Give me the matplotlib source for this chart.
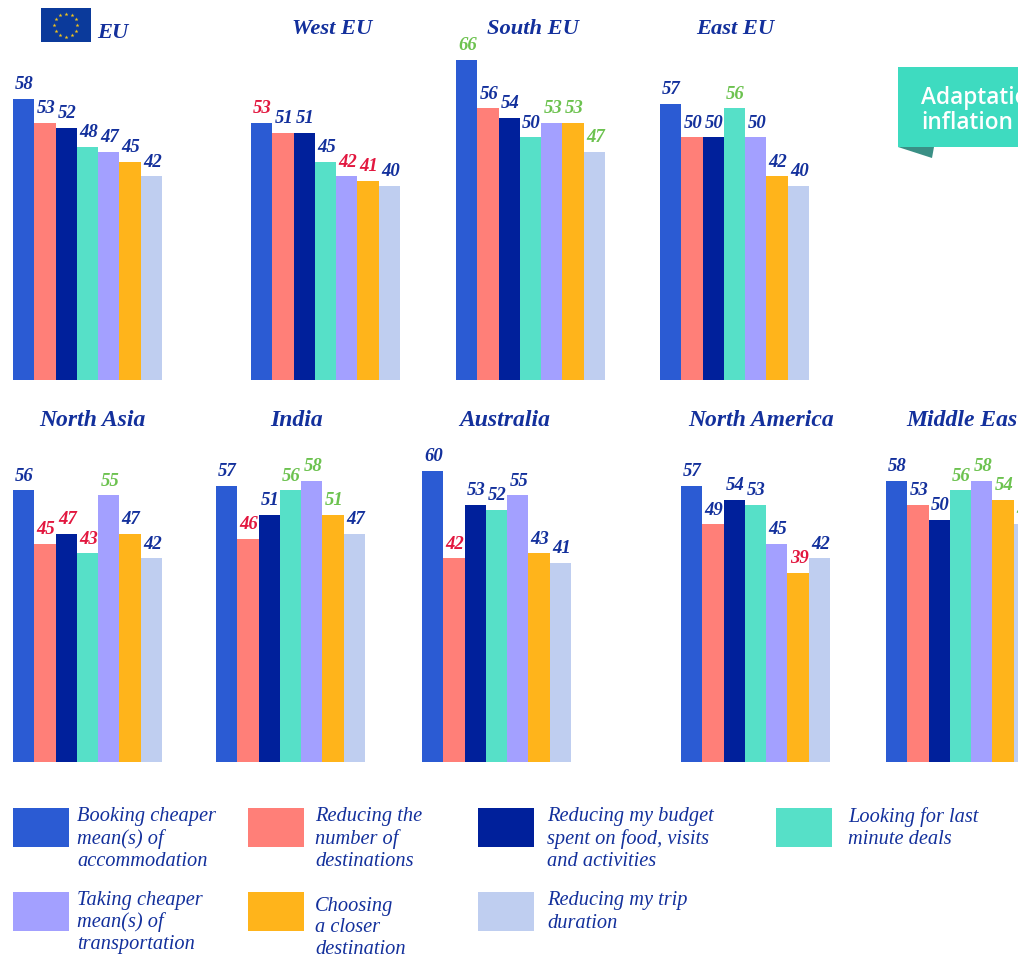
import numpy as np
import matplotlib
matplotlib.use("Agg")
import matplotlib.pyplot as plt
from matplotlib.patches import Polygon, Rectangle

# values, same option order in every panel
regions = ["EU", "West EU", "South EU", "East EU", "North Asia",
           "India", "Australia", "North America", "Middle East"]
eu = [58, 53, 52, 48, 47, 45, 42]
west_eu = [53, 51, 51, 45, 42, 41, 40]
south_eu = [66, 56, 54, 50, 53, 53, 47]
east_eu = [57, 50, 50, 56, 50, 42, 40]
north_asia = [56, 45, 47, 43, 55, 47, 42]
india = [57, 46, 51, 56, 58, 51, 47]
australia = [60, 42, 53, 52, 55, 43, 41]
north_america = [57, 49, 54, 53, 45, 39, 42]
middle_east = [58, 53, 50, 56, 58, 54, 49]

# n = normal, r = below average, g = above average
marks_eu = "nnnnnnn"
marks_west_eu = "rnnnrrn"
marks_south_eu = "gnnnggg"
marks_east_eu = "nnngnnn"
marks_north_asia = "nrrrgnn"
marks_india = "nrngggn"
marks_australia = "nrnnnnn"
marks_north_america = "nnnnnrn"
marks_middle_east = "nnngggg"

options = ["Booking cheaper\nmean(s) of\naccommodation",
           "Reducing the\nnumber of\ndestinations",
           "Reducing my budget\nspent on food, visits\nand activities",
           "Looking for last\nminute deals",
           "Taking cheaper\nmean(s) of\ntransportation",
           "Choosing\na closer\ndestination",
           "Reducing my trip\nduration"]

colors = ["#2B5BD3", "#FF7F78", "#00209B", "#56E0C8", "#A3A0FF", "#FFB41B", "#BFCEF0"]
mark_colors = {"n": "#13309C", "r": "#E2173F", "g": "#6CC24F"}
NAVY = "#13309C"

W, H = 1018, 956
SERIF = "Liberation Serif"
PX_PER_UNIT = 4.85
YMAX = 75

# panel layout in pixels: left edge, baseline, title centre x, title y, title size
panels = [
    (eu, marks_eu, 13, 380, 113, 33, 16.2),
    (west_eu, marks_west_eu, 251, 380, 332, 29, 16.2),
    (south_eu, marks_south_eu, 456, 380, 533, 29, 16.2),
    (east_eu, marks_east_eu, 660, 380, 735, 29, 16.2),
    (north_asia, marks_north_asia, 13, 762, 92, 421, 17),
    (india, marks_india, 216, 762, 297, 421, 17),
    (australia, marks_australia, 422, 762, 505, 421, 17),
    (north_america, marks_north_america, 681, 762, 761, 421, 17),
    (middle_east, marks_middle_east, 886, 762, 965, 421, 17),
]


def draw_panel(fig, overlay, name, values, marks, left, base, tx, ty, tsize):
    ax = fig.add_axes([left / W, 1 - base / H, 149 / W, YMAX * PX_PER_UNIT / H])
    ax.bar(range(7), values, width=1.0, color=colors)
    ax.set_xlim(-0.5, 6.5)
    ax.set_ylim(0, YMAX)
    ax.axis("off")
    for i, (v, m) in enumerate(zip(values, marks)):
        ax.annotate(str(v), (i, v), xytext=(0.7, 7), textcoords="offset points",
                    ha="center", va="baseline", family=SERIF, style="italic",
                    weight="bold", fontsize=13.5, color=mark_colors[m],
                    annotation_clip=False)
    overlay.text(tx, ty, name, ha="center", va="center", family=SERIF, style="italic",
                 weight="bold", fontsize=tsize, color=NAVY)


fig = plt.figure(figsize=(W / 100, H / 100), dpi=100)

# overlay in pixel coordinates for flag, banner and legend
overlay = fig.add_axes([0, 0, 1, 1], zorder=5)
overlay.set_xlim(0, W)
overlay.set_ylim(H, 0)
overlay.axis("off")
overlay.patch.set_alpha(0)

for name, (values, marks, left, base, tx, ty, tsize) in zip(regions, panels):
    draw_panel(fig, overlay, name, values, marks, left, base, tx, ty, tsize)

# EU flag
overlay.add_patch(Rectangle((41, 8), 50, 34, color="#0B3A9B", lw=0))
angles = np.arange(12) * np.pi / 6
overlay.scatter(66 + 11.5 * np.cos(angles), 25 + 11.5 * np.sin(angles),
                marker="*", s=9, color="#F5C518", lw=0)

# banner
overlay.add_patch(Polygon([(898, 147), (934, 147), (932, 158)], color="#3A8F85", lw=0))
overlay.add_patch(Rectangle((898, 67), 120, 80, color="#3EDBC0", lw=0))
overlay.text(921, 98, "Adaptation to", family="Open Sans", weight="semibold", fontsize=16.3,
             color="white", va="center", clip_on=True)
overlay.text(921, 123, "inflation", family="Open Sans", weight="semibold", fontsize=16.3,
             color="white", va="center", clip_on=True)

# legend: swatch x, swatch y, text x, first text line y
legend_pos = [(13, 808, 77, 817), (248, 808, 315, 817), (478, 808, 547, 817),
              (776, 808, 848, 817), (13, 892, 77, 900), (248, 892, 315, 906),
              (478, 892, 547, 901)]
for label, color, (sx, sy, lx, ly) in zip(options, colors, legend_pos):
    overlay.add_patch(Rectangle((sx, sy), 56, 39, color=color, lw=0))
    for j, line in enumerate(label.split("\n")):
        overlay.text(lx, ly + j * 22, line, family=SERIF, style="italic", fontsize=14.7,
                     color=NAVY, va="center")

fig.savefig("out.png", dpi=100)
